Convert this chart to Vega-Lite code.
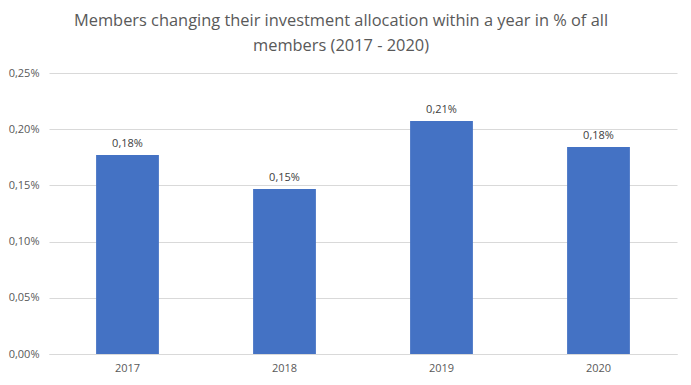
{
  "$schema": "https://vega.github.io/schema/vega-lite/v6.json",
  "width": 628,
  "height": 281,
  "autosize": "none",
  "padding": {"left": 49, "top": 73, "right": 14, "bottom": 31},
  "background": "white",
  "title": {
    "text": ["Members changing their investment allocation within a year in % of all", "members (2017 - 2020)"],
    "font": "Open Sans",
    "fontSize": 16.4,
    "fontWeight": "normal",
    "color": "#595959",
    "lineHeight": 25,
    "anchor": "middle",
    "dx": -22,
    "offset": 13
  },
  "data": {
    "values": [
      {"year": "2017", "value": 0.00177},
      {"year": "2018", "value": 0.001468},
      {"year": "2019", "value": 0.002073},
      {"year": "2020", "value": 0.001842}
    ]
  },
  "encoding": {
    "x": {
      "field": "year",
      "type": "nominal",
      "title": null,
      "scale": {"paddingInner": 0.6, "paddingOuter": 0.3},
      "axis": {
        "labelAngle": 0,
        "ticks": false,
        "domain": true,
        "domainColor": "#d9d9d9",
        "labelColor": "#595959",
        "labelFont": "Open Sans",
        "labelFontSize": 11,
        "labelPadding": 8
      }
    },
    "y": {
      "field": "value",
      "type": "quantitative",
      "title": null,
      "scale": {"domain": [0, 0.0025]},
      "axis": {
        "values": [0, 0.0005, 0.001, 0.0015, 0.002, 0.0025],
        "format": ".2%",
        "domain": false,
        "ticks": false,
        "gridColor": "#d9d9d9",
        "labelColor": "#595959",
        "labelFont": "Open Sans",
        "labelFontSize": 11,
        "labelPadding": 10
      }
    }
  },
  "layer": [
    {"mark": {"type": "bar", "color": "#4472c4"}},
    {
      "mark": {"type": "text", "baseline": "bottom", "dy": -6, "font": "Open Sans", "fontSize": 11, "color": "#404040"},
      "encoding": {"text": {"field": "value", "type": "quantitative", "format": ".2%"}}
    }
  ],
  "config": {
    "view": {"stroke": null},
    "locale": {
      "number": {"decimal": ",", "thousands": ".", "grouping": [3], "currency": ["", " €"]}
    }
  }
}
